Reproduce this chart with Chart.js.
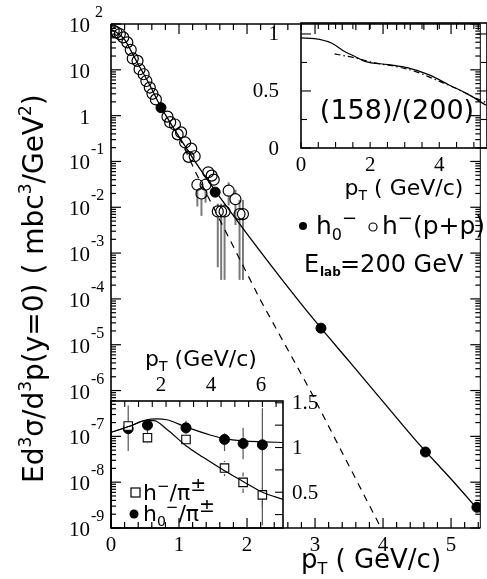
<!DOCTYPE html>
<html>
<head>
<meta charset="utf-8">
<script src="https://cdn.jsdelivr.net/npm/chart.js@4.4.1/dist/chart.umd.min.js"></script>
<style>
  body { margin: 0; background: #fff; }
  #wrap { position: relative; width: 487px; height: 579px; overflow: hidden; }
  canvas { position: absolute; }
</style>
</head>
<body>
<div id="wrap">
  <canvas id="main" width="487" height="579" style="left:0;top:0"></canvas>
  <canvas id="insetTop" width="247" height="210" style="left:240px;top:0"></canvas>
  <canvas id="insetLow" width="250" height="249" style="left:100px;top:330px"></canvas>
</div>
<script>
// ---- main spectrum: h- (p+p), open circles
const openPt  = [0.04, 0.08, 0.13, 0.18, 0.24, 0.29, 0.32, 0.39, 0.42, 0.48, 0.52, 0.57, 0.61, 0.66,
                 0.83, 0.87, 0.94, 0.98, 1.03, 1.09, 1.14, 1.18, 1.23, 1.27, 1.33, 1.39, 1.43, 1.48,
                 1.51, 1.57, 1.62, 1.67, 1.73, 1.83, 1.89, 1.94];
const openVal = [71.3, 65.8, 60.3, 51.1, 39.7, 27.3, 17.7, 15.7, 10.3, 8.0, 5.7, 4.1, 3.0, 2.26,
                 0.95, 0.72, 0.64, 0.39, 0.43, 0.26, 0.126, 0.19, 0.13, 0.031, 0.020, 0.031, 0.058, 0.049,
                 0.040, 0.0081, 0.0081, 0.0081, 0.023, 0.015, 0.0071, 0.0071];
const openErrLo = [null, null, null, null, null, null, null, null, null, null, null, null, null, null,
                   null, null, null, null, null, null, null, null, null, 0.0104, 0.0065, 0.0126, null, null,
                   null, 4.9e-4, 2.6e-4, 2.6e-4, 0.011, 0.0041, 2.6e-4, 2.6e-4];
const openErrHi = [null, null, null, null, null, null, null, null, null, null, null, null, null, null,
                   null, null, null, null, null, null, null, null, null, 0.040, 0.0295, 0.05, null, null,
                   null, 0.012, 0.012, 0.012, 0.035, 0.024, 0.0145, 0.0145];

// ---- main spectrum: h0-, filled circles
const filledPt  = [0.735, 1.532, 3.087, 4.623, 5.38];
const filledVal = [1.49, 0.0214, 2.30e-5, 4.55e-8, 2.83e-9];

// ---- curves
const fitPt  = [0, 0.1, 0.2, 0.3, 0.4, 0.5, 0.6, 0.7, 0.8, 0.9, 1.0, 1.2, 1.4, 1.6, 1.8, 2.0, 2.5, 3.0, 3.5, 4.0, 4.5, 5.0, 5.43];
const fitVal = [75.9, 63.1, 45.7, 25.1, 13.2, 7.24, 3.80, 1.91, 1.05, 0.60, 0.347, 0.120, 0.0437, 0.0166,
                6.6e-3, 2.63e-3, 2.82e-4, 3.31e-5, 4.37e-6, 5.75e-7, 7.59e-8, 1.17e-8, 2.2e-9];
const expPt  = [1.0, 1.25, 2.2, 2.93, 3.97];
const expVal = [0.347, 0.056, 9.3e-5, 1.0e-6, 1.0e-9];

// ---- axis ticks (main)
const xTickLabels = [0, 1, 2, 3, 4, 5];
const yDecades = [-9, -8, -7, -6, -5, -4, -3, -2, -1, 0, 1, 2];

// ---- upper inset: ratio (158)/(200)
const ratioPtA  = [0, 0.39, 0.88, 1.26, 1.56, 1.85, 2.52, 3.1, 3.69, 4.27, 4.85, 5.35];
const ratioValA = [0.965, 0.959, 0.921, 0.847, 0.803, 0.76, 0.731, 0.702, 0.643, 0.555, 0.468, 0.375];
const ratioPtB  = [0.97, 1.56, 2.14, 2.72, 3.3, 3.88, 4.46, 5.04, 5.38];
const ratioValB = [0.825, 0.79, 0.746, 0.716, 0.672, 0.60, 0.526, 0.439, 0.395];
const ratioXTicks = [0, 2, 4];
const ratioYTicks = [0, 0.5, 1];

// ---- lower inset: h-/pi and h0-/pi
const lowPt      = [0.25, 0.53, 1.09, 1.65, 1.92, 2.2];
const h0PiVal    = [1.21, 1.25, 1.22, 1.09, 1.045, 1.03];
const h0PiErrLo  = [0.96, 1.10, 1.15, 0.96, 0.87, 0.13];
const h0PiErrHi  = [1.47, 1.30, 1.30, 1.16, 1.22, 1.44];
const hmPiVal    = [1.24, 1.11, 1.09, 0.77, 0.61, 0.47];
const hmPiErrLo  = [null, 1.04, null, 0.68, 0.49, 0.33];
const hmPiErrHi  = [null, 1.18, null, 0.85, 0.72, 0.55];
const curveUpPt  = [0, 0.28, 0.52, 0.66, 0.81, 1.09, 1.44, 1.65, 1.92, 2.2, 2.5];
const curveUpVal = [1.17, 1.24, 1.31, 1.32, 1.31, 1.23, 1.14, 1.10, 1.075, 1.064, 1.056];
const curveLoPt  = [0, 0.28, 0.5, 0.62, 0.81, 1.09, 1.34, 1.65, 1.92, 2.2, 2.5];
const curveLoVal = [1.17, 1.24, 1.30, 1.30, 1.205, 1.02, 0.89, 0.74, 0.62, 0.50, 0.42];
const lowTopTicks = [2, 4, 6];
const lowRightTicks = [0.5, 1, 1.5];

const SERIF = '"Liberation Serif", "DejaVu Serif", serif';
const SANS = '"DejaVu Sans", sans-serif';

const pts = (xs, ys) => xs.map((x, i) => ({ x: x, y: ys[i] }));

// text with sub/superscripts: parts = [[text, 0|1|-1, sizeFactor?]]
function rich(ctx, parts, x, y, size, family, align) {
  const sz = p => (p[1] === 0 ? size : Math.round(size * (p[2] || 0.62)));
  let w = 0;
  parts.forEach(p => { ctx.font = sz(p) + 'px ' + family; w += ctx.measureText(p[0]).width; });
  let cx = align === 'center' ? x - w / 2 : (align === 'right' ? x - w : x);
  ctx.textAlign = 'left';
  ctx.textBaseline = 'alphabetic';
  parts.forEach(p => {
    ctx.font = sz(p) + 'px ' + family;
    const dy = p[1] === 1 ? -size * 0.42 : (p[1] === -1 ? size * 0.22 : 0);
    ctx.fillText(p[0], cx, y + dy);
    cx += ctx.measureText(p[0]).width;
  });
}

function seg(ctx, x1, y1, x2, y2) {
  ctx.beginPath(); ctx.moveTo(x1, y1); ctx.lineTo(x2, y2); ctx.stroke();
}

const errorBars = {
  id: 'errorBars',
  beforeDatasetsDraw(chart) {
    const ctx = chart.ctx;
    chart.data.datasets.forEach((ds, i) => {
      if (!ds.errLo) return;
      const meta = chart.getDatasetMeta(i);
      const ys = chart.scales[meta.yAxisID];
      ctx.save();
      ctx.strokeStyle = ds.errColor || '#777';
      ctx.lineWidth = ds.errWidth || 1.5;
      meta.data.forEach((pt, j) => {
        const lo = ds.errLo[j], hi = ds.errHi[j];
        if (lo == null) return;
        const r = ds.pointRadius;
        const yl = ys.getPixelForValue(lo), yh = ys.getPixelForValue(hi);
        if (yl > pt.y + r) seg(ctx, pt.x, pt.y + r, pt.x, yl);
        if (yh < pt.y - r) seg(ctx, pt.x, pt.y - r, pt.x, yh);
      });
      ctx.restore();
    });
  }
};

const mainDecor = {
  id: 'mainDecor',
  afterDraw(chart) {
    const { ctx, chartArea: a, scales: { x, y } } = chart;
    ctx.save();
    ctx.strokeStyle = '#000';
    ctx.fillStyle = '#000';
    ctx.lineWidth = 1.6;
    seg(ctx, a.left, a.top, a.left, a.bottom);
    seg(ctx, a.left, a.bottom, a.right, a.bottom);
    seg(ctx, a.left, a.top, a.right, a.top);
    ctx.lineWidth = 1;
    seg(ctx, a.right, a.top, a.right, a.bottom);
    ctx.lineWidth = 1.2;
    // x ticks, minor every 0.2
    for (let i = 0; i * 0.2 <= x.max + 1e-9; i++) {
      const px = x.getPixelForValue(i * 0.2);
      const len = i % 5 === 0 ? 10 : 6;
      seg(ctx, px, a.bottom, px, a.bottom - len);
      seg(ctx, px, a.top, px, a.top + len);
    }
    // y ticks, log decades
    yDecades.forEach(e => {
      for (let m = 1; m <= 9; m++) {
        const v = m * Math.pow(10, e);
        if (v > y.max * 1.0001) break;
        const py = y.getPixelForValue(v);
        const len = m === 1 ? 10 : 5;
        seg(ctx, a.left, py, a.left + len, py);
        seg(ctx, a.right, py, a.right - len, py);
      }
    });
    // tick labels
    ctx.textBaseline = 'alphabetic';
    yDecades.forEach(e => {
      const py = y.getPixelForValue(Math.pow(10, e));
      ctx.font = '21px ' + SERIF;
      ctx.textAlign = 'right';
      ctx.fillText(e === 0 ? '1' : '10', 90, py + 8);
      if (e !== 0 && e !== 1) {
        ctx.font = '16px ' + SERIF;
        ctx.textAlign = 'left';
        ctx.fillText(String(e), e > 0 ? 95 : 91, py - 7);
      }
    });
    ctx.font = '21px ' + SERIF;
    ctx.textAlign = 'center';
    xTickLabels.forEach(v => ctx.fillText(String(v), x.getPixelForValue(v), 551));
    // axis titles
    rich(ctx, [['p', 0], ['T', -1], [' ( GeV/c)', 0]], 371, 568, 26, SANS, 'center');
    ctx.save();
    ctx.translate(43, 483);
    ctx.rotate(-Math.PI / 2);
    rich(ctx, [['Ed', 0], ['3', 1], ['σ/d', 0], ['3', 1], ['p(y=0) ( mbc', 0], ['3', 1], ['/GeV', 0], ['2', 1], [')', 0]],
      0, 0, 28, SANS, 'left');
    ctx.restore();
    // legend & energy
    ctx.beginPath(); ctx.arc(303, 226, 4, 0, 2 * Math.PI); ctx.fill();
    rich(ctx, [['h', 0], ['0', -1], ['−', 1, 0.7]], 316, 234, 25, SANS, 'left');
    ctx.lineWidth = 1.2;
    ctx.beginPath(); ctx.arc(373, 227, 4, 0, 2 * Math.PI); ctx.stroke();
    rich(ctx, [['h', 0], ['−', 1, 0.7], ['(p+p)', 0]], 382, 234, 25, SANS, 'left');
    ctx.font = '24px ' + SANS;
    ctx.textAlign = 'left';
    ctx.fillText('E', 304, 272);
    ctx.font = 'bold 12px ' + SANS;
    ctx.fillText('lab', 320, 276);
    ctx.font = '24px ' + SANS;
    ctx.fillText('=200 GeV', 340, 272);
    ctx.restore();
  }
};

const topDecor = {
  id: 'topDecor',
  afterDraw(chart) {
    const { ctx, chartArea: a, scales: { x, y } } = chart;
    ctx.save();
    ctx.strokeStyle = '#000';
    ctx.fillStyle = '#000';
    ctx.lineWidth = 1.6;
    ctx.strokeRect(a.left, a.top, a.right - a.left, a.bottom - a.top);
    ctx.lineWidth = 1.1;
    for (let i = 0; i * 0.5 <= x.max; i++) {
      const px = x.getPixelForValue(i * 0.5);
      seg(ctx, px, a.bottom, px, a.bottom - 6);
      seg(ctx, px, a.top, px, a.top + 6);
    }
    for (let i = 0; i * 0.25 <= y.max; i++) {
      const py = y.getPixelForValue(i * 0.25);
      const len = i % 2 === 0 ? 10 : 6;
      seg(ctx, a.left, py, a.left + len, py);
      seg(ctx, a.right, py, a.right - len, py);
    }
    ctx.font = '21px ' + SERIF;
    ctx.textBaseline = 'middle';
    ctx.textAlign = 'center';
    ratioXTicks.forEach(v => ctx.fillText(String(v), x.getPixelForValue(v), 165));
    ctx.textAlign = 'right';
    ratioYTicks.forEach(v => ctx.fillText(String(v), 39, y.getPixelForValue(v) + 1));
    rich(ctx, [['p', 0], ['T', -1], [' ( GeV/c)', 0]], 164, 195, 22, SANS, 'center');
    ctx.font = '27px ' + SANS;
    ctx.textAlign = 'center';
    ctx.textBaseline = 'middle';
    ctx.fillText('(158)/(200)', 157, 112);
    ctx.restore();
  }
};

const lowDecor = {
  id: 'lowDecor',
  afterDraw(chart) {
    const { ctx, chartArea: a, scales: { x, x2, y } } = chart;
    ctx.save();
    ctx.strokeStyle = '#000';
    ctx.fillStyle = '#000';
    ctx.lineWidth = 1.6;
    ctx.strokeRect(a.left, a.top, a.right - a.left, a.bottom - a.top);
    ctx.lineWidth = 1.1;
    for (let i = 1; i * 0.2 < x.max; i++) {
      const px = x.getPixelForValue(i * 0.2);
      seg(ctx, px, a.top, px, a.top + 6);
    }
    for (let i = 1; i * 0.25 <= y.max; i++) {
      const py = y.getPixelForValue(i * 0.25);
      if (py < a.top) break;
      seg(ctx, a.right, py, a.right - 8, py);
    }
    ctx.font = '21px ' + SERIF;
    ctx.textBaseline = 'middle';
    ctx.textAlign = 'center';
    lowTopTicks.forEach(v => ctx.fillText(String(v), x2.getPixelForValue(v), 55));
    ctx.textAlign = 'left';
    lowRightTicks.forEach(v => ctx.fillText(String(v), a.right + 9, y.getPixelForValue(v) + 1));
    rich(ctx, [['p', 0], ['T', -1], [' (GeV/c)', 0]], 101, 36, 22, SANS, 'center');
    // legend
    ctx.lineWidth = 1.2;
    ctx.strokeRect(31, 158, 9, 9);
    rich(ctx, [['h', 0], ['−', 1, 0.7], ['/π', 0], ['±', 1, 0.85]], 43, 170, 22, SANS, 'left');
    ctx.beginPath(); ctx.arc(34, 184, 4.5, 0, 2 * Math.PI); ctx.fill();
    rich(ctx, [['h', 0], ['0', -1], ['−', 1, 0.7], ['/π', 0], ['±', 1, 0.85]], 43, 191, 22, SANS, 'left');
    ctx.restore();
  }
};

const baseOpts = (padding, scales) => ({
  responsive: false,
  animation: false,
  events: [],
  layout: { padding: padding },
  plugins: { legend: { display: false }, tooltip: { enabled: false } },
  scales: scales
});

new Chart(document.getElementById('main'), {
  type: 'scatter',
  data: {
    datasets: [
      { data: pts(fitPt, fitVal), showLine: true, borderColor: '#000', borderWidth: 1.3,
        pointRadius: 0, cubicInterpolationMode: 'monotone' },
      { data: pts(expPt, expVal), showLine: true, borderColor: '#000', borderWidth: 1.2,
        borderDash: [7, 6], pointRadius: 0 },
      { data: pts(openPt, openVal), pointRadius: 5.5, pointStyle: 'circle', borderColor: '#000',
        backgroundColor: 'rgba(0,0,0,0)', borderWidth: 1.2,
        errLo: openErrLo, errHi: openErrHi, errColor: '#7a7a7a', errWidth: 2 },
      { data: pts(filledPt, filledVal), pointRadius: 5, pointStyle: 'circle', borderColor: '#000',
        backgroundColor: '#000', borderWidth: 1 }
    ]
  },
  options: baseOpts({ left: 111, top: 24, right: 1, bottom: 51 }, {
    x: { type: 'linear', min: 0, max: 5.43, display: false },
    y: { type: 'logarithmic', min: 1e-9, max: 100, display: false }
  }),
  plugins: [errorBars, mainDecor]
});

new Chart(document.getElementById('insetTop'), {
  type: 'scatter',
  data: {
    datasets: [
      { data: pts(ratioPtA, ratioValA), showLine: true, borderColor: '#000', borderWidth: 1.2,
        pointRadius: 0, cubicInterpolationMode: 'monotone' },
      { data: pts(ratioPtB, ratioValB), showLine: true, borderColor: '#000', borderWidth: 1.2,
        borderDash: [6, 3, 1.5, 3], pointRadius: 0, cubicInterpolationMode: 'monotone' }
    ]
  },
  options: baseOpts({ left: 61, top: 23, right: 0, bottom: 62 }, {
    x: { type: 'linear', min: 0, max: 5.38, display: false },
    y: { type: 'linear', min: 0, max: 1.096, display: false }
  }),
  plugins: [topDecor]
});

new Chart(document.getElementById('insetLow'), {
  type: 'scatter',
  data: {
    datasets: [
      { data: pts(curveUpPt, curveUpVal), showLine: true, borderColor: '#000', borderWidth: 1.2,
        pointRadius: 0, cubicInterpolationMode: 'monotone' },
      { data: pts(curveLoPt, curveLoVal), showLine: true, borderColor: '#000', borderWidth: 1.2,
        pointRadius: 0, cubicInterpolationMode: 'monotone' },
      { data: pts(lowPt, hmPiVal), pointRadius: 6, pointStyle: 'rect', borderColor: '#000',
        backgroundColor: '#fff', borderWidth: 1.1,
        errLo: hmPiErrLo, errHi: hmPiErrHi, errColor: '#555', errWidth: 1.2 },
      { data: pts(lowPt, h0PiVal), pointRadius: 5, pointStyle: 'circle', borderColor: '#000',
        backgroundColor: '#000', borderWidth: 1,
        errLo: h0PiErrLo, errHi: h0PiErrHi, errColor: '#555', errWidth: 1.2 }
    ]
  },
  options: baseOpts({ left: 11, top: 71, right: 67, bottom: 51 }, {
    x: { type: 'linear', min: 0, max: 2.5, display: false },
    x2: { type: 'linear', position: 'top', min: 0, max: 6.875, display: false },
    y: { type: 'linear', min: 0.1, max: 1.52, display: false }
  }),
  plugins: [errorBars, lowDecor]
});
</script>
</body>
</html>
